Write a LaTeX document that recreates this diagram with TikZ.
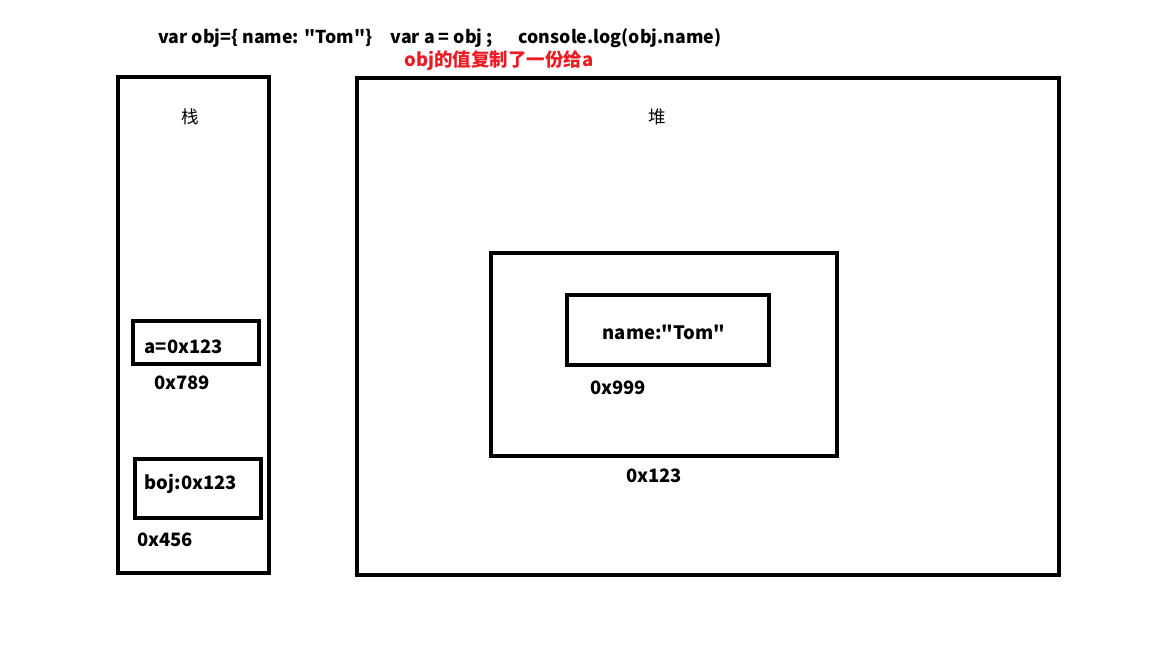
\documentclass[tikz,border=0pt]{standalone}
\usepackage{fontspec}
\setmainfont{Noto Sans CJK SC}[Ligatures=TeXOff]
\usetikzlibrary{positioning}
\definecolor{note-red}{RGB}{237,28,36}
\tikzstyle{mem-box} = [rectangle, draw=black, line width=2.3pt, inner sep=0pt]
\tikzstyle{addr} = [inner sep=0pt, font=\fontsize{10.5pt}{12pt}\selectfont\bfseries]
\tikzstyle{title} = [inner sep=0pt, font=\fontsize{10pt}{12pt}\selectfont]

\begin{document}
\begin{tikzpicture}[x=0.02cm, y=-0.02cm]
\useasboundingbox (0,0) rectangle (1152,648);

% code line on top
\node (code) [addr, anchor=west, font=\fontsize{10.1pt}{12pt}\selectfont\bfseries] at (158,38) {var obj=\{ name: "Tom"\}\hspace{0.36cm}var a = obj ;\hspace{0.52cm}console.log(obj.name)};
\node (note) [addr, text=note-red] at (499,61) {obj的值复制了一份给a};

% stack
\node (stack) [mem-box, minimum width=3.02cm, minimum height=9.92cm] at (193.5,325) {};
\node (stack-title) [title] at (190,117) {栈};
\node (box-a) [mem-box, minimum width=2.52cm, minimum height=0.86cm] at (196,342.5) {};
\node (val-a) [addr] at (184,347) {a=0x123};
\node (addr-a) [addr] at (182,383) {0x789};
\node (box-obj) [mem-box, minimum width=2.52cm, minimum height=1.18cm] at (198,488.5) {};
\node (val-obj) [addr] at (191,484) {boj:0x123};
\node (addr-obj) [addr] at (165,540) {0x456};

% heap
\node (heap) [mem-box, minimum width=14.04cm, minimum height=9.94cm] at (708,326.5) {};
\node (heap-title) [title] at (657,117) {堆};
\node (object) [mem-box, minimum width=6.92cm, minimum height=4.06cm] at (664,354.5) {};
\node (addr-object) [addr] at (654,476) {0x123};
\node (prop) [mem-box, minimum width=4.04cm, minimum height=1.4cm] at (668,330) {};
\node (prop-text) [addr] at (664,332) {name:"Tom"};
\node (addr-prop) [addr] at (618,388) {0x999};

\end{tikzpicture}
\end{document}
